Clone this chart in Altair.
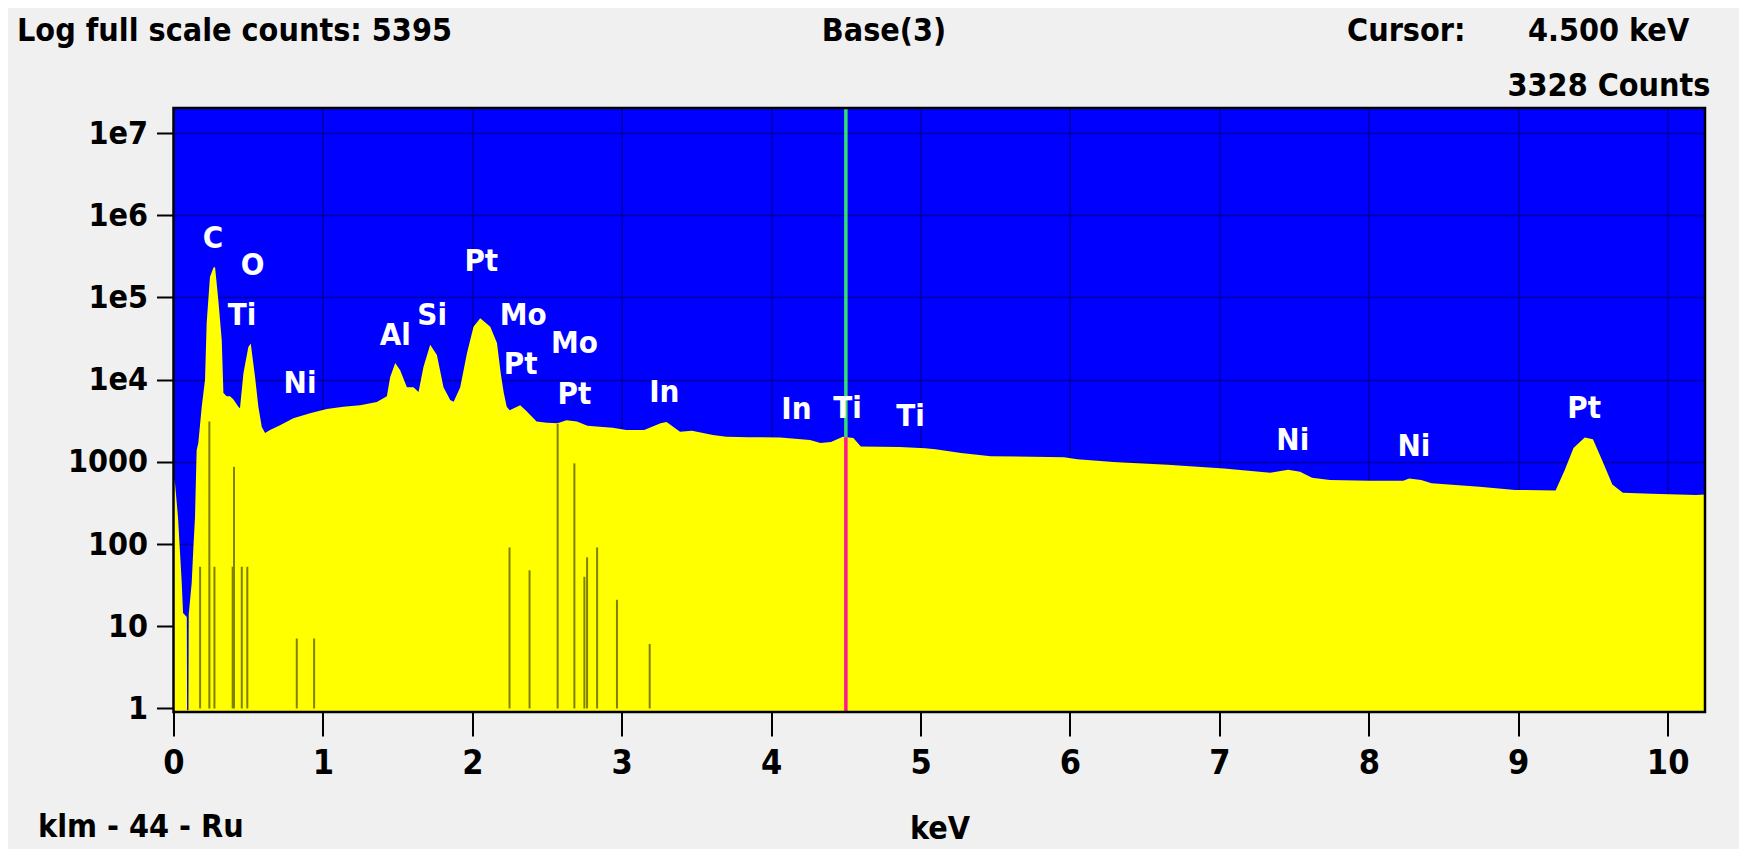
import altair as alt
import pandas as pd

# ---------------- data ----------------
spec_kev = [0.000, 0.010, 0.030, 0.055, 0.064, 0.089, 0.091, 0.100, 0.102, 0.122,
            0.133, 0.144, 0.155, 0.166, 0.189, 0.211, 0.222, 0.244, 0.267, 0.278,
            0.300, 0.323, 0.334, 0.356, 0.378, 0.400, 0.434, 0.445, 0.468, 0.501,
            0.517, 0.546, 0.568, 0.591, 0.613, 0.646, 0.713, 0.802, 0.914, 1.026,
            1.137, 1.249, 1.361, 1.428, 1.450, 1.484, 1.517, 1.562, 1.606, 1.640,
            1.673, 1.718, 1.763, 1.807, 1.852, 1.875, 1.919, 1.964, 2.008, 2.053,
            2.120, 2.165, 2.190, 2.210, 2.230, 2.250, 2.320, 2.360, 2.430, 2.500,
            2.570, 2.630, 2.700, 2.770, 2.830, 2.940, 3.030, 3.150, 3.260, 3.300,
            3.390, 3.470, 3.610, 3.700, 3.850, 4.060, 4.260, 4.330, 4.400, 4.480,
            4.550, 4.600, 4.860, 5.030, 5.100, 5.270, 5.470, 5.960, 6.050, 6.290,
            6.650, 7.030, 7.340, 7.460, 7.540, 7.620, 7.740, 8.000, 8.230, 8.270,
            8.350, 8.420, 8.740, 8.980, 9.250, 9.310, 9.370, 9.445, 9.500, 9.560,
            9.630, 9.700, 9.890, 10.190, 10.250]
spec_counts = [660, 554, 214, 34, 14.5, 13, 0.95, 0.95, 14, 34,
               90, 214, 1390, 1700, 4700, 10000, 49000, 178000, 230000, 235000,
               93000, 30000, 6900, 6300, 6300, 5800, 4700, 4500, 12000, 25000,
               27500, 10700, 4700, 2650, 2240, 2450, 2800, 3400, 3900, 4400,
               4700, 4900, 5350, 6300, 10700, 16000, 13000, 8100, 8100, 7100,
               14300, 26600, 20000, 8100, 5650, 5400, 8100, 21000, 44000, 56000,
               44000, 28000, 12000, 7000, 4700, 4260, 4900, 4200, 3100, 3000,
               2950, 3200, 3100, 2750, 2700, 2600, 2450, 2450, 2950, 3050,
               2330, 2400, 2130, 2020, 2000, 1980, 1850, 1700, 1750, 2020,
               1950, 1540, 1520, 1470, 1420, 1280, 1175, 1140, 1080, 1000,
               920, 830, 740, 800, 760, 640, 600, 590, 590, 630,
               600, 550, 500, 455, 450, 785, 1480, 1980, 1880, 1060,
               530, 420, 410, 395, 400]

marker_kev = [0.178, 0.240, 0.274, 0.396, 0.405, 0.457, 0.494, 0.825, 0.941,
              2.249, 2.383, 2.571, 2.683, 2.750, 2.768, 2.835, 2.968, 3.187]
marker_counts = [53, 3100, 53, 53, 870, 53, 53, 7.1, 7.1,
                 91, 48, 2900, 960, 40, 69, 91, 21, 6.1]

label_text = ["C", "O", "Ti", "Ni", "Al", "Si", "Pt", "Mo", "Pt", "Mo", "Pt",
              "In", "In", "Ti", "Ti", "Ni", "Ni", "Pt"]
label_kev = [0.265, 0.529, 0.459, 0.847, 1.484, 1.731, 2.060, 2.341, 2.324, 2.683,
             2.683, 3.285, 4.169, 4.511, 4.933, 7.491, 8.302, 9.441]
label_counts = [508000, 241000, 59600, 8850, 34000, 59600, 270000, 59600, 15100,
                27200, 6510, 6890, 4270, 4400, 3520, 1795, 1520, 4400]

cursor_kev = [4.5]
cursor_curve = [2000]

y_ticks = [1, 10, 100, 1000, 1e4, 1e5, 1e6, 1e7]
y_tick_labels = ["1", "10", "100", "1000", "1e4", "1e5", "1e6", "1e7"]
x_ticks = [0, 1, 2, 3, 4, 5, 6, 7, 8, 9, 10]
x_tick_labels = ["0", "1", "2", "3", "4", "5", "6", "7", "8", "9", "10"]

header_title = "Log full scale counts: 5395"
header_center = "Base(3)"
header_cursor = "Cursor:"
header_kev = "4.500 keV"
header_counts = "3328 Counts"
footer_left = "klm - 44 - Ru"
x_title = "keV"

# ---------------- layout ----------------
X_MIN, X_MAX = 0.0, 10.25
Y_MIN, Y_MAX = 0.906, 2.02e7
W, H = 1531.5, 604
FONT = "DejaVu Sans Condensed, DejaVu Sans, sans-serif"
BLUE = "#0000FF"
YELLOW = "#FFFF00"


def label_expr(values, labels):
    parts = [f"abs(datum.value - {v}) < {1e-6 + v * 1e-6} ? '{l}'" for v, l in zip(values, labels)]
    return " : ".join(parts) + " : ''"


xscale = alt.Scale(domain=[X_MIN, X_MAX], nice=False, zero=False)
yscale = alt.Scale(type="log", domain=[Y_MIN, Y_MAX], nice=False)

xaxis = alt.Axis(values=x_ticks, labelExpr=label_expr(x_ticks, x_tick_labels),
                 grid=True, gridColor="#0000A0", gridWidth=1.5, domain=False,
                 tickColor="black", tickWidth=2, tickSize=24,
                 labelFont=FONT, labelFontSize=34, labelFontWeight="bold", labelColor="black",
                 labelPadding=10, labelFlush=False, labelOverlap=False, labelBound=False,
                 title=x_title, titleFont=FONT, titleFontSize=32, titleFontWeight="bold",
                 titleColor="black", titleX=766, titleY=126, titleBaseline="alphabetic",
                 titleAlign="center")
yaxis = alt.Axis(values=y_ticks, labelExpr=label_expr(y_ticks, y_tick_labels),
                 grid=True, gridColor="#0000A0", gridWidth=1.5, domain=False,
                 tickColor="black", tickWidth=2, tickSize=17,
                 labelFont=FONT, labelFontSize=32, labelFontWeight="bold", labelColor="black",
                 labelPadding=9, labelFlush=False, labelOverlap=False, labelBound=False,
                 title=None)

spec_df = pd.DataFrame({"kev": spec_kev, "counts": spec_counts, "base": [Y_MIN] * len(spec_kev)})
area = alt.Chart(spec_df).mark_area(color=YELLOW, interpolate="linear", opacity=1).encode(
    x=alt.X("kev:Q", scale=xscale, axis=xaxis),
    y=alt.Y("counts:Q", scale=yscale, axis=yaxis),
    y2="base:Q",
)

marker_df = pd.DataFrame({"kev": marker_kev, "counts": marker_counts, "base": [1] * len(marker_kev)})
markers = alt.Chart(marker_df).mark_rule(color="#808000", strokeWidth=2).encode(
    x="kev:Q", y="counts:Q", y2="base:Q"
)

cur_df = pd.DataFrame({"kev": cursor_kev, "curve": cursor_curve, "top": [Y_MAX], "bottom": [Y_MIN]})
cur_top = alt.Chart(cur_df).mark_rule(color="#33DD77", strokeWidth=3.5).encode(
    x="kev:Q", y="curve:Q", y2="top:Q"
)
cur_bot = alt.Chart(cur_df).mark_rule(color="#FF1A8C", strokeWidth=3.5).encode(
    x="kev:Q", y="curve:Q", y2="bottom:Q"
)

lab_df = pd.DataFrame({"kev": label_kev, "counts": label_counts, "text": label_text})
labels = alt.Chart(lab_df).mark_text(color="white", font=FONT, fontSize=31, fontWeight="bold",
                                     baseline="middle", align="center").encode(
    x="kev:Q", y="counts:Q", text="text:N"
)

frame_df = pd.DataFrame({"x0": [X_MIN], "x1": [X_MAX], "y0": [Y_MIN], "y1": [Y_MAX]})
frame = alt.Chart(frame_df).mark_rect(fillOpacity=0, stroke="black", strokeWidth=2.5).encode(
    x="x0:Q", x2="x1:Q", y="y0:Q", y2="y1:Q"
)


def header(text, px, py, align):
    df = pd.DataFrame({"t": [text]})
    return alt.Chart(df).mark_text(font=FONT, fontSize=32, fontWeight="bold", color="black",
                                   align=align, baseline="alphabetic").encode(
        x=alt.value(px), y=alt.value(py), text="t:N")


headers = [
    header(header_title, -156.5, -67, "left"),
    header(header_center, 710.5, -67, "center"),
    header(header_cursor, 1173.5, -67, "left"),
    header(header_kev, 1354.5, -67, "left"),
    header(header_counts, 1537, -12, "right"),
    header(footer_left, -135.5, 729, "left"),
]

chart = alt.layer(area, markers, cur_top, cur_bot, labels, frame, *headers).properties(
    width=W, height=H,
    padding={"left": 165.5, "top": 100, "right": 34, "bottom": 137},
    autosize=alt.AutoSizeParams(type="none"),
    background="#F0F0F0",
).configure_view(fill=BLUE, strokeWidth=0)

chart.save("out.html", embed_options={"renderer": "svg", "actions": False})
